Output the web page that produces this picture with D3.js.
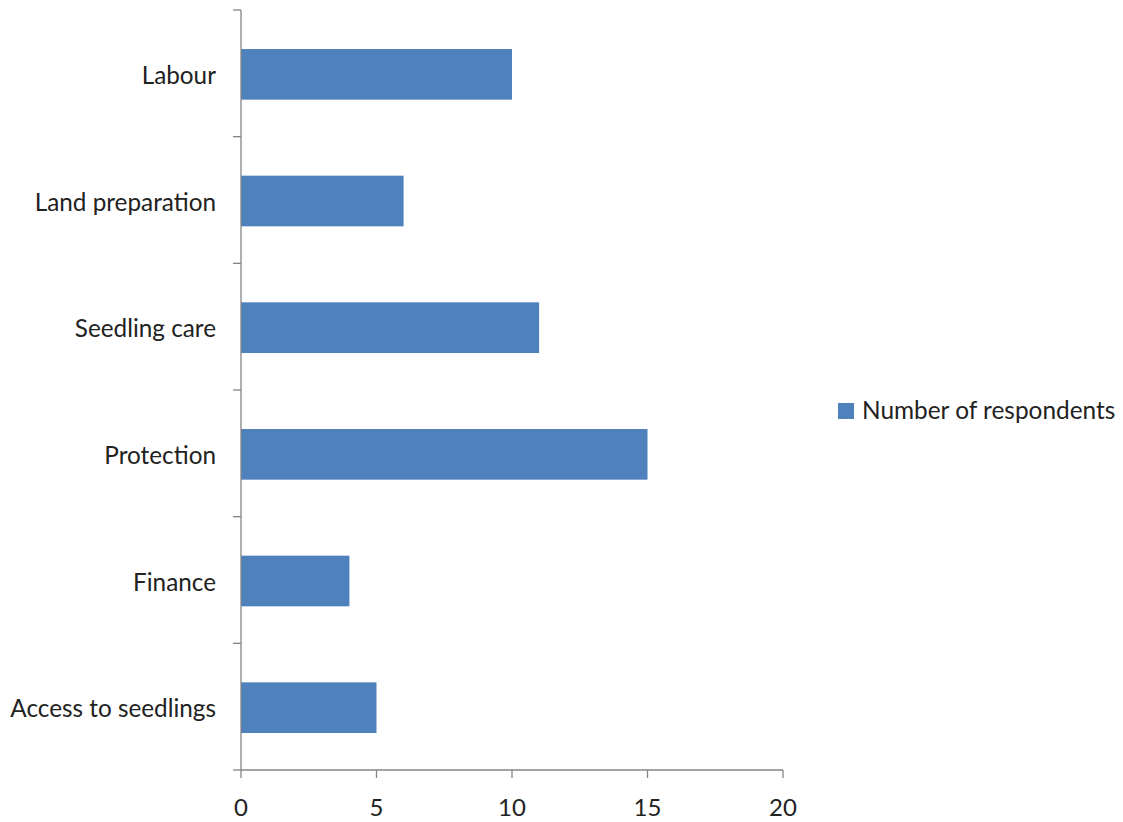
<!DOCTYPE html>
<html><head><meta charset="utf-8">
<script src="https://cdn.jsdelivr.net/npm/d3@7"></script>
<style>body{margin:0;background:#fff}svg{display:block}text{font-family:Lato,"Open Sans",sans-serif;fill:#222}</style>
</head><body><svg id="c" width="1123" height="822"></svg>
<script>
const categories = ["Labour","Land preparation","Seedling care","Protection","Finance","Access to seedlings"];
const values = [10, 6, 11, 15, 4, 5];
const xTicks = [0, 5, 10, 15, 20];
const seriesName = "Number of respondents";

(function(){
const svg = d3.select("#c");
const mLeft = 241, mRight = 783, mTop = 10, mBottom = 770;
const x = d3.scaleLinear().domain([0, 20]).range([mLeft, mRight]);
const y = d3.scaleBand().domain(categories).range([mTop, mBottom]).paddingInner(0.6).paddingOuter(0.3);
const axisColor = "#868686";

svg.selectAll("rect.bar").data(categories).join("rect").attr("class","bar")
  .attr("x", x(0)).attr("y", d => y(d) + 1)
  .attr("width", (d,i) => x(values[i]) - x(0)).attr("height", y.bandwidth())
  .attr("fill", "#4F81BD");

// y axis
svg.append("line").attr("x1", mLeft).attr("x2", mLeft).attr("y1", mTop).attr("y2", mBottom).attr("stroke", axisColor).attr("stroke-width", 1.3);
const step = (mBottom - mTop) / categories.length;
const yTickPos = d3.range(categories.length + 1).map(i => mTop + i * step);
svg.selectAll("line.yt").data(yTickPos).join("line").attr("class","yt")
  .attr("x1", mLeft - 8).attr("x2", mLeft).attr("y1", d => d).attr("y2", d => d)
  .attr("stroke", axisColor).attr("stroke-width", 1.3);
svg.selectAll("text.yl").data(categories).join("text").attr("class","yl")
  .attr("x", 216).attr("y", d => y(d) + y.bandwidth()/2 + 2).attr("dy", "0.35em")
  .attr("text-anchor", "end").attr("font-size", 24.3).text(d => d);

// x axis
svg.append("line").attr("x1", mLeft).attr("x2", mRight).attr("y1", mBottom).attr("y2", mBottom).attr("stroke", axisColor).attr("stroke-width", 1.3);
svg.selectAll("line.xt").data(xTicks).join("line").attr("class","xt")
  .attr("x1", d => x(d)).attr("x2", d => x(d)).attr("y1", mBottom).attr("y2", mBottom + 8)
  .attr("stroke", axisColor).attr("stroke-width", 1.3);
svg.selectAll("text.xl").data(xTicks).join("text").attr("class","xl")
  .attr("x", d => x(d)).attr("y", 816).attr("text-anchor", "middle").attr("font-size", 24).text(d => d);

// legend
svg.append("rect").attr("x", 838).attr("y", 403).attr("width", 16).attr("height", 16).attr("fill", "#4F81BD");
svg.append("text").attr("x", 862).attr("y", 419).attr("font-size", 24.4).text(seriesName);
})();
</script></body></html>
